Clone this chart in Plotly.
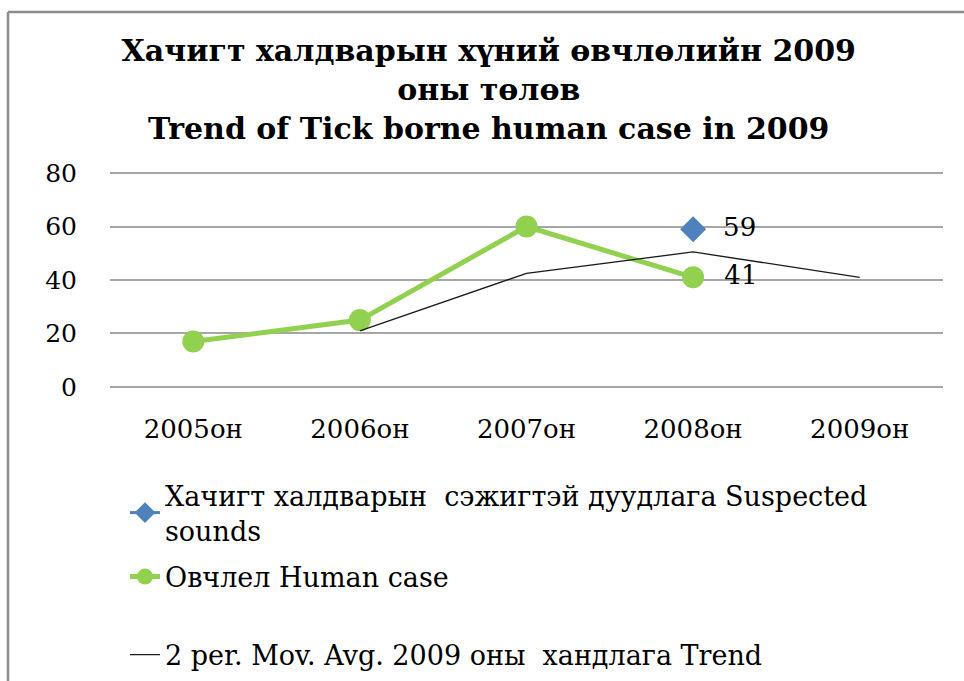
import plotly.graph_objects as go

years = ["2005он", "2006он", "2007он", "2008он", "2009он"]
human_case = [17, 25, 60, 41, None]
suspected = [None, None, None, 59, None]
mov_avg = [None, 21, 42.5, 50.5, 41]
y_ticks = [0, 20, 40, 60, 80]

title_text = ("Хачигт халдварын хүний өвчлөлийн 2009<br>оны төлөв<br>"
              "Trend of Tick borne human case in 2009")
name_suspected = "Хачигт халдварын  сэжигтэй дуудлага Suspected<br>sounds"
name_human = "Овчлел Human case"
name_trend = "2 per. Mov. Avg. 2009 оны  хандлага Trend"

FONT = "DejaVu Serif"
W, H = 964, 681
L, R, T, B = 110, 21, 172, 293
PW, PH = W - L - R, H - T - B

def px(xp):
    return (xp - L) / PW

def py(yp):
    return (H - B - yp) / PH

NB = "\u00a0\u00a0"

fig = go.Figure()

fig.add_trace(go.Scatter(
    x=years, y=suspected, name=name_suspected, mode="lines+markers+text",
    line=dict(color="#4F81BD", width=3),
    marker=dict(symbol="diamond", size=20, color="#4F81BD"),
    text=["", "", "", NB + "59", ""], textposition="middle right",
    textfont=dict(family=FONT, size=26, color="#000000"),
    legend="legend", cliponaxis=False,
))
fig.add_trace(go.Scatter(
    x=years, y=human_case, name=name_human, mode="lines+markers+text",
    line=dict(color="#92D050", width=5),
    marker=dict(symbol="circle", size=22, color="#92D050"),
    text=["", "", "", NB + "41", ""], textposition="middle right",
    textfont=dict(family=FONT, size=26, color="#000000"),
    legend="legend2", cliponaxis=False,
))
fig.add_trace(go.Scatter(
    x=years, y=mov_avg, name=name_trend, mode="lines",
    line=dict(color="#1a1a1a", width=1.3),
    legend="legend3",
))

legend_common = dict(
    xref="container", yref="container", xanchor="left", yanchor="middle",
    font=dict(family=FONT, size=27, color="#000000"),
    bgcolor="rgba(0,0,0,0)", itemsizing="trace",
)

fig.update_layout(
    width=W, height=H,
    margin=dict(l=L, r=R, t=T, b=B, autoexpand=False),
    paper_bgcolor="white", plot_bgcolor="white",
    title=dict(
        text=title_text, xref="container", yref="container",
        x=0.507, xanchor="center", y=1 - 61 / H, yanchor="top",
        font=dict(family=FONT, size=30, color="#000000", weight="bold"),
    ),
    xaxis=dict(
        type="category", categoryorder="array", categoryarray=years,
        range=[-0.5, 4.5], showgrid=False, zeroline=False, showline=False,
        ticks="", ticklabelstandoff=23, tickangle=0,
        tickfont=dict(family=FONT, size=26, color="#000000"),
    ),
    yaxis=dict(
        range=[-0.4, 80.4], tickvals=y_ticks, showgrid=True,
        gridcolor="#a6a6a6", gridwidth=1.5, zeroline=False, showline=False,
        ticks="", ticklabelstandoff=32,
        tickfont=dict(family=FONT, size=25, color="#000000"),
    ),
    legend=dict(x=125 / W, y=1 - 513 / H, **legend_common),
    legend2=dict(x=125 / W, y=1 - 577 / H, **legend_common),
    legend3=dict(x=125 / W, y=1 - 655 / H, **legend_common),
    showlegend=True,
    shapes=[
        dict(type="line", xref="paper", yref="paper",
             x0=px(8), x1=px(8), y0=py(H + 20), y1=py(12),
             line=dict(color="#8c8c8c", width=2.5)),
        dict(type="line", xref="paper", yref="paper",
             x0=px(8), x1=px(W + 20), y0=py(12), y1=py(12),
             line=dict(color="#8c8c8c", width=2.5)),
    ],
)

fig.write_html("out.html", config={"displayModeBar": False},
               post_script="document.body.style.margin='0';")
